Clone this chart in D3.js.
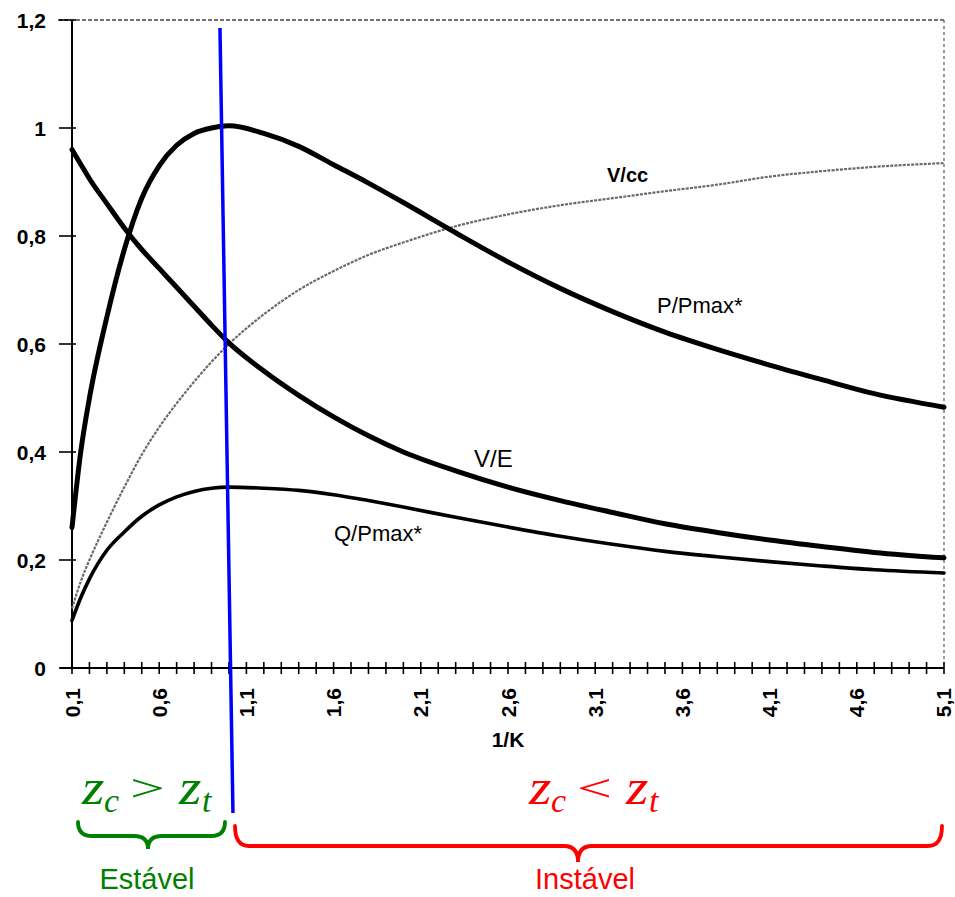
<!DOCTYPE html>
<html>
<head>
<meta charset="utf-8">
<script src="https://cdn.jsdelivr.net/npm/d3@7"></script>
<style>
  html, body { margin: 0; padding: 0; background: #fff; }
  svg { display: block; }
</style>
</head>
<body>
<svg id="chart" width="955" height="897"></svg>
<script>
// ---- data ----
const xs      = [0.1, 0.15, 0.2, 0.3, 0.4, 0.5, 0.6, 0.7, 0.8, 0.9, 1.0, 1.2, 1.4, 1.6, 1.8, 2.0, 2.3, 2.6, 2.9, 3.2, 3.5, 3.8, 4.1, 4.4, 4.7, 5.1];
const pPmax   = [0.26, 0.40, 0.50, 0.65, 0.775, 0.87, 0.93, 0.968, 0.99, 1.0, 1.004, 0.99, 0.966, 0.932, 0.898, 0.862, 0.806, 0.752, 0.703, 0.66, 0.622, 0.59, 0.561, 0.534, 0.508, 0.483];
const vE      = [0.96, 0.933, 0.906, 0.86, 0.815, 0.775, 0.74, 0.705, 0.67, 0.635, 0.602, 0.55, 0.505, 0.465, 0.43, 0.40, 0.365, 0.335, 0.31, 0.288, 0.267, 0.251, 0.237, 0.225, 0.214, 0.204];
const vcc     = [0.11, 0.16, 0.2, 0.27, 0.335, 0.395, 0.446, 0.49, 0.53, 0.567, 0.60, 0.655, 0.70, 0.735, 0.765, 0.788, 0.818, 0.84, 0.857, 0.87, 0.883, 0.895, 0.91, 0.92, 0.928, 0.935];
const qPmax   = [0.088, 0.13, 0.165, 0.218, 0.252, 0.281, 0.302, 0.317, 0.327, 0.333, 0.335, 0.333, 0.329, 0.321, 0.31, 0.298, 0.279, 0.261, 0.244, 0.229, 0.216, 0.206, 0.197, 0.189, 0.182, 0.176];

const yTicks      = [0, 0.2, 0.4, 0.6, 0.8, 1, 1.2];
const yTickLabels = ["0", "0,2", "0,4", "0,6", "0,8", "1", "1,2"];
const xMajor      = [0.1, 0.6, 1.1, 1.6, 2.1, 2.6, 3.1, 3.6, 4.1, 4.6, 5.1];
const xMajorLabels= ["0,1", "0,6", "1,1", "1,6", "2,1", "2,6", "3,1", "3,6", "4,1", "4,6", "5,1"];
const xMinor      = d3.range(0, 51).map(i => +(0.1 + i * 0.1).toFixed(1));
const xTitle      = "1/K";
const boundaryX   = 1.0;

const seriesNames = ["P/Pmax*", "V/E", "V/cc", "Q/Pmax*"];
const regionLabels = ["Estável", "Instável"];

// ---- layout ----
const svg = d3.select("#chart");
const x = d3.scaleLinear().domain([0.1, 5.1]).range([72, 944]);
const y = d3.scaleLinear().domain([0, 1.2]).range([668, 20]);
const FONT = "'Liberation Sans', Arial, Helvetica, sans-serif";

// frame (dotted top/right, as in the scan)
svg.append("line")
  .attr("x1", x(0.1) - 14).attr("x2", x(5.1))
  .attr("y1", y(1.2)).attr("y2", y(1.2))
  .attr("stroke", "#444").attr("stroke-width", 1.6).attr("stroke-dasharray", "4 2");
svg.append("line")
  .attr("x1", x(5.1)).attr("x2", x(5.1))
  .attr("y1", y(1.2)).attr("y2", y(0))
  .attr("stroke", "#666").attr("stroke-width", 1.3).attr("stroke-dasharray", "3 3");

// y axis
const yAxis = svg.append("g");
yAxis.append("line")
  .attr("x1", x(0.1)).attr("x2", x(0.1))
  .attr("y1", y(1.2)).attr("y2", y(0))
  .attr("stroke", "#000").attr("stroke-width", 2);
yAxis.selectAll("line.tick").data(yTicks).join("line")
  .attr("class", "tick")
  .attr("x1", x(0.1) - 13).attr("x2", x(0.1) + 4)
  .attr("y1", d => y(d)).attr("y2", d => y(d))
  .attr("stroke", "#000").attr("stroke-width", 1.6);
yAxis.selectAll("text").data(yTicks).join("text")
  .attr("x", 46).attr("y", d => y(d))
  .attr("dy", "0.36em")
  .attr("text-anchor", "end")
  .attr("font-family", FONT).attr("font-weight", "bold").attr("font-size", 21)
  .text((d, i) => yTickLabels[i]);

// x axis
const xAxis = svg.append("g");
xAxis.append("line")
  .attr("x1", x(0.1) - 12).attr("x2", x(5.1))
  .attr("y1", y(0)).attr("y2", y(0))
  .attr("stroke", "#000").attr("stroke-width", 2);
xAxis.selectAll("line.tick").data(xMinor).join("line")
  .attr("class", "tick")
  .attr("x1", d => x(d)).attr("x2", d => x(d))
  .attr("y1", y(0) - 6).attr("y2", y(0) + 6)
  .attr("stroke", "#000").attr("stroke-width", 1.6);
xAxis.selectAll("text").data(xMajor).join("text")
  .attr("transform", d => `translate(${Math.min(x(d), 943)},${y(0) + 20}) rotate(-90)`)
  .attr("dy", "0.36em")
  .attr("text-anchor", "end")
  .attr("font-family", FONT).attr("font-weight", "bold").attr("font-size", 21)
  .text((d, i) => xMajorLabels[i]);
svg.append("text")
  .attr("x", 508).attr("y", 747)
  .attr("text-anchor", "middle")
  .attr("font-family", FONT).attr("font-weight", "bold").attr("font-size", 21)
  .text(xTitle);

// curves
const line = vals => d3.line()
  .x((d, i) => x(xs[i]))
  .y(d => y(d))
  .curve(d3.curveMonotoneX)(vals);

svg.append("path").attr("d", line(vcc))
  .attr("fill", "none").attr("stroke", "#6a6a6a").attr("stroke-width", 2.2)
  .attr("stroke-dasharray", "3 1.2");
svg.append("path").attr("d", line(qPmax))
  .attr("fill", "none").attr("stroke", "#000").attr("stroke-width", 3.6)
  .attr("stroke-linejoin", "round").attr("stroke-linecap", "round");
svg.append("path").attr("d", line(vE))
  .attr("fill", "none").attr("stroke", "#000").attr("stroke-width", 5)
  .attr("stroke-linejoin", "round").attr("stroke-linecap", "round");
svg.append("path").attr("d", line(pPmax))
  .attr("fill", "none").attr("stroke", "#000").attr("stroke-width", 5)
  .attr("stroke-linejoin", "round").attr("stroke-linecap", "round");

// curve labels
svg.append("text").attr("x", 657).attr("y", 313)
  .attr("font-family", FONT).attr("font-size", 22).text(seriesNames[0]);
svg.append("text").attr("x", 474).attr("y", 467)
  .attr("font-family", FONT).attr("font-size", 24).text(seriesNames[1]);
svg.append("text").attr("x", 607).attr("y", 182)
  .attr("font-family", FONT).attr("font-weight", "bold").attr("font-size", 20).text(seriesNames[2]);
svg.append("text").attr("x", 334).attr("y", 541)
  .attr("font-family", FONT).attr("font-size", 22).text(seriesNames[3]);

// stability boundary (blue)
svg.append("line")
  .attr("x1", x(boundaryX) - 9).attr("y1", 28)
  .attr("x2", x(boundaryX) + 4).attr("y2", 813)
  .attr("stroke", "#0000ff").attr("stroke-width", 3.5);

// bottom annotations
const SERIF = "'Liberation Serif', 'Times New Roman', Times, serif";
function zExpr(x0, color, rel) {
  const g = svg.append("g").attr("fill", color).attr("font-family", SERIF);
  const base = 804, fs = 50, sub = 34;
  g.append("text").attr("transform", `translate(${x0},${base}) scale(1.15,1)`)
    .attr("font-style", "italic").attr("font-size", fs).text("z");
  g.append("text").attr("x", x0 + 22).attr("y", base + 8).attr("font-style", "italic").attr("font-size", sub).text("c");
  g.append("text").attr("transform", `translate(${x0 + 48},${base - 3}) scale(1.55,0.95)`)
    .attr("font-size", 40).text(rel);
  g.append("text").attr("transform", `translate(${x0 + 97},${base}) scale(1.15,1)`)
    .attr("font-style", "italic").attr("font-size", fs).text("z");
  g.append("text").attr("x", x0 + 120).attr("y", base + 8).attr("font-style", "italic").attr("font-size", sub).text("t");
}
zExpr(82, "#008000", ">");
zExpr(529, "#ff0000", "<");

function brace(x0, x1, xm, yTop, yMid, yTip, color) {
  const r = Math.min(14, (x1 - x0) / 6);
  const p = `M${x0},${yTop} Q${x0},${yMid} ${x0 + r},${yMid} L${xm - r},${yMid} Q${xm},${yMid} ${xm},${yTip} ` +
            `Q${xm},${yMid} ${xm + r},${yMid} L${x1 - r},${yMid} Q${x1},${yMid} ${x1},${yTop}`;
  svg.append("path").attr("d", p).attr("fill", "none").attr("stroke", color)
    .attr("stroke-width", 3.8).attr("stroke-linecap", "round");
}
brace(78, 225, 148, 822, 836, 849, "#008000");
brace(235, 942, 578, 826, 846, 862, "#ff0000");

svg.append("text").attr("x", 147).attr("y", 889).attr("text-anchor", "middle")
  .attr("font-family", FONT).attr("font-size", 29).attr("fill", "#008000").text(regionLabels[0]);
svg.append("text").attr("x", 585).attr("y", 889).attr("text-anchor", "middle")
  .attr("font-family", FONT).attr("font-size", 29).attr("fill", "#ff0000").text(regionLabels[1]);
</script>
</body>
</html>
